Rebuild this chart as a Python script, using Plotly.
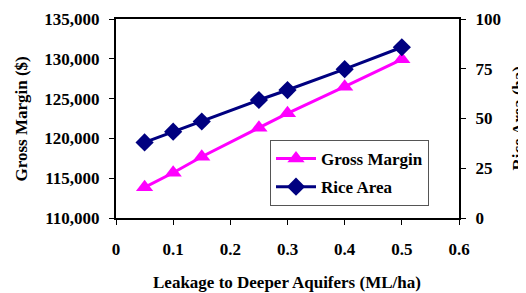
import plotly.graph_objects as go

leakage = [0.05, 0.1, 0.15, 0.25, 0.3, 0.4, 0.5]
gross_margin = [113850, 115680, 117700, 121330, 123150, 126500, 129940]
rice_area = [38.0, 43.4, 48.5, 59.3, 64.3, 74.8, 85.8]

x_ticks = [0, 0.1, 0.2, 0.3, 0.4, 0.5, 0.6]
gm_ticks = [110000, 115000, 120000, 125000, 130000, 135000]
ra_ticks = [0, 25, 50, 75, 100]

FONT = "Liberation Serif, Times New Roman, serif"
f17 = dict(family=FONT, size=17, color="black", weight="bold")

# page body has an 8px default margin, so the figure is offset by (8, 8)
OFF = 8
W, H = 526 - OFF, 293 - OFF
PL, PT, PR, PB = 116, 19, 459, 218  # target plot-area box in window pixels

fig = go.Figure()
fig.add_trace(go.Scatter(
    x=leakage, y=gross_margin, name="Gross Margin", mode="lines+markers",
    line=dict(color="#FF00FF", width=3),
    marker=dict(symbol="triangle-up", size=15, color="#FF00FF"),
    yaxis="y", legendgroup="a"))
fig.add_trace(go.Scatter(
    x=leakage, y=rice_area, name="Rice Area", mode="lines+markers",
    line=dict(color="#000080", width=3),
    marker=dict(symbol="diamond", size=14, color="#000080"),
    yaxis="y2", legendgroup="b"))

pw, ph = PR - PL, PB - PT


def px(xp):
    return (xp - PL) / pw


def py(yp):
    return 1 - (yp - PT) / ph


fig.update_layout(
    template="none",
    width=W, height=H,
    margin=dict(l=PL - OFF, r=W - (PR - OFF), t=PT - OFF, b=H - (PB - OFF), autoexpand=False),
    paper_bgcolor="white", plot_bgcolor="white",
    showlegend=True,
    legend=dict(x=px(270), y=py(140), xanchor="left", yanchor="top",
                bgcolor="white", bordercolor="#555555", borderwidth=1,
                font=f17, itemwidth=40, tracegroupgap=3),
    xaxis=dict(range=[0, 0.6], tickvals=x_ticks, ticktext=[f"{v:g}" for v in x_ticks],
               automargin=False,
               showgrid=False, zeroline=False, showline=True, linecolor="black",
               linewidth=2, mirror=True, ticks="outside", ticklen=5, tickwidth=1,
               tickcolor="black", tickfont=f17, ticklabelstandoff=10),
    yaxis=dict(range=[110000, 135000], tickvals=gm_ticks,
               ticktext=[f"{v:,}" for v in gm_ticks], automargin=False,
               showgrid=False, zeroline=False, showline=True, linecolor="black",
               linewidth=2, ticks="outside", ticklen=5, tickwidth=1,
               tickcolor="black", tickfont=f17, ticklabelstandoff=6),
    yaxis2=dict(range=[0, 100], tickvals=ra_ticks, ticktext=[str(v) for v in ra_ticks],
                overlaying="y", side="right", automargin=False,
                showgrid=False, zeroline=False, showline=True, linecolor="black",
                linewidth=2, ticks="outside", ticklen=5, tickwidth=1,
                tickcolor="black", tickfont=f17, ticklabelstandoff=6),
    yaxis3=dict(range=[0, 100], tickvals=ra_ticks, showticklabels=False,
                overlaying="y", side="right", anchor="x", automargin=False,
                showgrid=False, zeroline=False, showline=False,
                ticks="inside", ticklen=5, tickwidth=1, tickcolor="black"),
    annotations=[
        dict(text="Gross Margin ($)", textangle=-90, x=px(21), y=py(118.5),
             xanchor="center", yanchor="middle",
             xref="paper", yref="paper", showarrow=False, font=f17),
        dict(text="Rice Area (ha)", textangle=-90, x=px(518), y=py(118.5),
             xanchor="center", yanchor="middle",
             xref="paper", yref="paper", showarrow=False, font=f17),
        dict(text="Leakage to Deeper Aquifers (ML/ha)", x=px(287), y=py(282),
             xanchor="center", yanchor="middle",
             xref="paper", yref="paper", showarrow=False, font=f17),
    ],
)

fig.write_html("out.html")
